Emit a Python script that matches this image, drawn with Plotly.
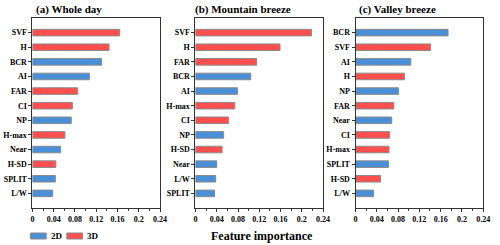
import plotly.graph_objects as go

# ---- data ----
kind = {"SVF": "3D", "H": "3D", "BCR": "2D", "AI": "2D", "FAR": "3D", "CI": "3D",
        "NP": "2D", "H-max": "3D", "Near": "2D", "H-SD": "3D", "SPLIT": "2D", "L/W": "2D"}

whole_feats = ["SVF", "H", "BCR", "AI", "FAR", "CI", "NP", "H-max", "Near", "H-SD", "SPLIT", "L/W"]
whole_vals = [0.164, 0.144, 0.130, 0.107, 0.085, 0.075, 0.073, 0.061, 0.053, 0.044, 0.043, 0.038]

mount_feats = ["SVF", "H", "FAR", "BCR", "AI", "H-max", "CI", "NP", "H-SD", "Near", "L/W", "SPLIT"]
mount_vals = [0.218, 0.159, 0.115, 0.104, 0.079, 0.074, 0.062, 0.053, 0.050, 0.040, 0.038, 0.036]

valley_feats = ["BCR", "SVF", "AI", "H", "NP", "FAR", "Near", "CI", "H-max", "SPLIT", "H-SD", "L/W"]
valley_vals = [0.174, 0.141, 0.104, 0.092, 0.081, 0.072, 0.068, 0.064, 0.063, 0.062, 0.047, 0.034]

titles = ["(a) Whole day", "(b) Mountain breeze", "(c) Valley breeze"]
xticks = [0, 0.04, 0.08, 0.12, 0.16, 0.2, 0.24]

# ---- style ----
BLUE = "#4A90D9"
RED = "#FF4F4F"
EDGE = "#8a8a8a"
FONT = "Liberation Serif"
W, H = 500, 245
colors = {"2D": BLUE, "3D": RED}

panels = [(whole_feats, whole_vals), (mount_feats, mount_vals), (valley_feats, valley_vals)]
xdoms_px = [(31, 161), (197, 327), (360, 490)]
ytop, ybot = 18, 208
ydom = [(H - ybot) / H, (H - ytop) / H]

fig = go.Figure()
layout = dict(width=W, height=H, autosize=False, margin=dict(l=0, r=0, t=0, b=0),
              plot_bgcolor="white", paper_bgcolor="white", showlegend=False,
              bargap=0.55, font=dict(family=FONT, size=8, color="black"))

annotations = []
shapes = []
for i, (feats, vals) in enumerate(panels):
    n = i + 1
    xa = "x" if n == 1 else f"x{n}"
    ya = "y" if n == 1 else f"y{n}"
    for k in ["2D", "3D"]:
        ys = [f for f in feats if kind[f] == k]
        xs = [v for f, v in zip(feats, vals) if kind[f] == k]
        fig.add_trace(go.Bar(x=xs, y=ys, orientation="h", name=k, width=0.45,
                             marker=dict(color=colors[k], line=dict(color=EDGE, width=1)),
                             xaxis=xa, yaxis=ya))
    xkey = "xaxis" if n == 1 else f"xaxis{n}"
    ykey = "yaxis" if n == 1 else f"yaxis{n}"
    layout[xkey] = dict(domain=[xdoms_px[i][0] / W, xdoms_px[i][1] / W], anchor=ya,
                        range=[0, 0.24], tickvals=xticks,
                        ticktext=[("%g" % t) for t in xticks],
                        ticks="outside", ticklen=3, tickcolor="#333", showline=True,
                        linecolor="#333", linewidth=1, mirror=True, showgrid=False,
                        zeroline=False,
                        tickfont=dict(family=FONT, size=8, color="black", weight="bold"),
                        minor=dict(tickvals=[0.02, 0.06, 0.10, 0.14, 0.18, 0.22],
                                   ticks="outside", ticklen=2, tickcolor="#333"))
    layout[ykey] = dict(domain=ydom, anchor=xa, type="category",
                        categoryorder="array", categoryarray=feats,
                        range=[12, -1], ticks="outside", ticklen=3, tickcolor="#333",
                        showline=True, linecolor="#333", linewidth=1, mirror=True,
                        showgrid=False, zeroline=False,
                        tickfont=dict(family=FONT, size=8, color="black", weight="bold"))
    annotations.append(dict(text=titles[i], xref="paper", yref="paper",
                            x=[33, 195, 362][i] / W, y=(H - 9) / H, xanchor="left",
                            yanchor="middle", showarrow=False,
                            font=dict(family=FONT, size=11, color="black", weight="bold")))

annotations.append(dict(text="Feature importance", xref="paper", yref="paper",
                        x=265 / W, y=(H - 236) / H, xanchor="center", yanchor="middle",
                        showarrow=False,
                        font=dict(family=FONT, size=12, color="black", weight="bold")))

# legend drawn manually
for lx, k, tx in [(29, "2D", 48), (66, "3D", 85)]:
    shapes.append(dict(type="rect", xref="paper", yref="paper",
                       x0=lx / W, x1=(lx + 16) / W, y0=(H - 239) / H, y1=(H - 233) / H,
                       fillcolor=colors[k], line=dict(color=EDGE, width=1)))
    annotations.append(dict(text=k, xref="paper", yref="paper", x=tx / W, y=(H - 236) / H,
                            xanchor="left", yanchor="middle", showarrow=False,
                            font=dict(family=FONT, size=9, color="black", weight="bold")))

layout["annotations"] = annotations
layout["shapes"] = shapes
fig.update_layout(**layout)
fig.write_html("out.html", config={"displayModeBar": False},
               post_script="document.body.style.margin='0';document.body.style.overflow='hidden';")
